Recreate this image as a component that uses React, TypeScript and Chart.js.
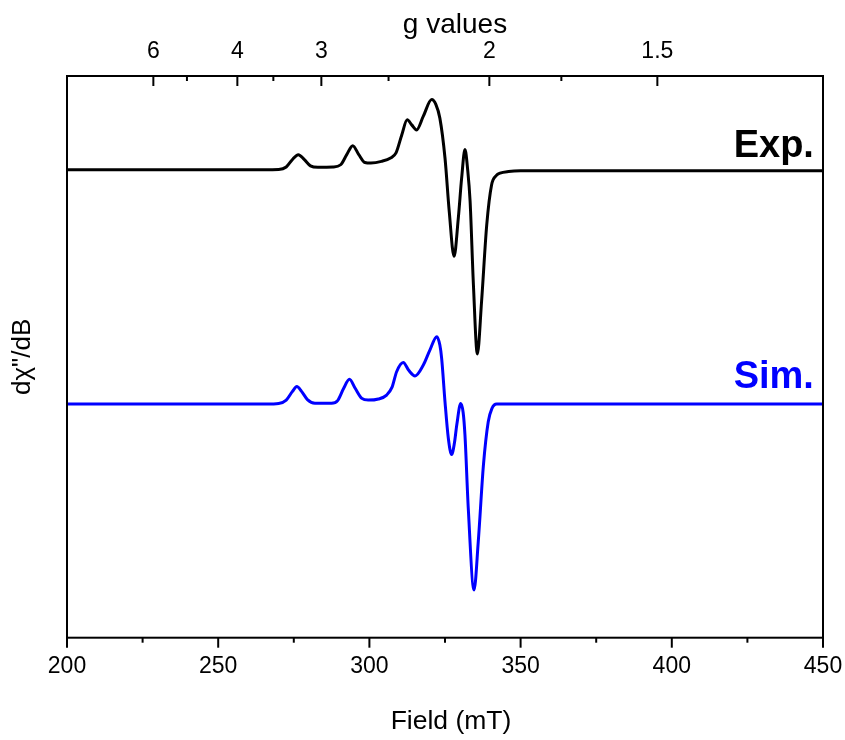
import React, { useEffect, useRef } from "react";
import { Chart, registerables } from "chart.js";

Chart.register(...registerables);

const FONT = "'Liberation Sans', Arial, Helvetica, sans-serif";

// Experimental spectrum (field in mT, signal in arbitrary units relative to its baseline)
const expField = [200, 265, 270, 272.5, 274.5, 276.5, 278.5, 280.5, 283, 288, 290.5, 292.5, 294.5, 296.5, 298.5, 300.5, 304, 307, 308.8, 310.7, 312.5, 314, 315.6, 317.8, 320.6, 322, 323.3, 325, 326.4, 328, 329.4, 330.5, 331.6, 332.5, 333.3, 334.4, 335.7, 337.1, 338.8, 340.4, 342, 343.2, 346, 350, 450];
const expSignal = [0, 0, 0.05, 0.5, 1.8, 2.7, 1.8, 0.7, 0.45, 0.5, 0.9, 2.7, 4.3, 2.7, 1.3, 1.2, 1.5, 2.1, 3.0, 6.2, 8.9, 8.0, 7.1, 9.5, 12.5, 11.6, 9.2, 2.1, -7.4, -15.4, -8.6, -1.5, 3.6, 0, -5.6, -20.5, -32.8, -23.4, -9.8, -2.7, -1.0, -0.6, -0.3, -0.18, -0.18];

// Simulated spectrum
const simField = [200, 266, 270, 272.5, 274.5, 276, 277.5, 279.5, 282, 287.5, 289.5, 291.5, 293.4, 295.3, 297.5, 299.6, 303, 305.7, 307.5, 309, 311.2, 313, 315.1, 317.8, 320, 322.3, 323.3, 323.9, 325, 326.1, 327.2, 328.1, 328.9, 330.2, 331, 331.6, 332.7, 334.6, 336, 337.7, 339.3, 340.5, 342.1, 450];
const simSignal = [0, 0, 0.1, 0.7, 2.2, 3.1, 2.3, 0.8, 0.15, 0.12, 0.6, 2.8, 4.4, 2.8, 1.0, 0.7, 0.9, 1.6, 3.0, 5.75, 7.4, 6.0, 5.0, 6.9, 9.6, 12.0, 10.5, 8.1, 0.4, -6.1, -9.0, -7.0, -3.7, 0.1, -1.5, -5.5, -18.6, -33.1, -24.5, -10.9, -3.15, -0.8, 0, 0];

// vertical offsets of the stacked traces
const expOffset = 83.3;
const simOffset = 41.6;

// bottom axis ticks (mT)
const fieldMajorTicks = [200, 250, 300, 350, 400, 450];
const fieldMinorTicks = [225, 275, 325, 375, 425];

// top axis ticks (g values, axis linear in 1/g)
const gMajorTicks = [6, 4, 3, 2, 1.5];
const gMinorTicks = [5, 3.5, 2.5, 1.75];
const invGMin = 0.081;
const invGMax = 0.831;

// axis titles
const bottomTitle = "Field (mT)";
const topTitle = "g values";
const leftTitle = "dχ\"/dB";

// trace labels
const traceLabels = [
  { text: "Exp.", color: "#000000", field: 447, y: expOffset + 2.3 },
  { text: "Sim.", color: "#0000ff", field: 447, y: simOffset + 2.8 },
];

const framePlugin = {
  id: "framePlugin",
  afterDraw(chart: any) {
    const { ctx, chartArea, scales } = chart;
    const { left, right, top, bottom } = chartArea;
    const cx = (left + right) / 2;
    ctx.save();
    ctx.strokeStyle = "#000";
    ctx.lineWidth = 2;
    ctx.strokeRect(left, top, right - left, bottom - top);
    const tick = (x: number, y0: number, y1: number) => {
      ctx.beginPath();
      ctx.moveTo(x, y0);
      ctx.lineTo(x, y1);
      ctx.stroke();
    };
    fieldMajorTicks.forEach((v) => tick(scales.x.getPixelForValue(v), bottom, bottom + 10));
    fieldMinorTicks.forEach((v) => tick(scales.x.getPixelForValue(v), bottom, bottom + 5));
    gMajorTicks.forEach((g) => tick(scales.x2.getPixelForValue(1 / g), top, top + 10));
    gMinorTicks.forEach((g) => tick(scales.x2.getPixelForValue(1 / g), top, top + 5));

    // axis titles (slightly right of centre, as in the original figure)
    ctx.fillStyle = "#000";
    ctx.textAlign = "center";
    ctx.textBaseline = "middle";
    ctx.font = `28px ${FONT}`;
    ctx.fillText(topTitle, cx + 10, scales.x2.top + 25);
    ctx.font = `26.5px ${FONT}`;
    ctx.fillText(bottomTitle, cx + 6, scales.x.bottom - 18);

    ctx.font = `bold 38px ${FONT}`;
    ctx.textAlign = "right";
    ctx.textBaseline = "alphabetic";
    traceLabels.forEach((l) => {
      ctx.fillStyle = l.color;
      ctx.fillText(l.text, scales.x.getPixelForValue(l.field), scales.y.getPixelForValue(l.y));
    });
    ctx.restore();
  },
};

export default function App() {
  const ref = useRef<HTMLCanvasElement | null>(null);

  useEffect(() => {
    if (!ref.current) return;
    const chart = new Chart(ref.current, {
      type: "line",
      data: {
        datasets: [
          {
            label: "Exp.",
            data: expField.map((f, i) => ({ x: f, y: expOffset + expSignal[i] })),
            borderColor: "#000000",
            borderWidth: 3,
            pointRadius: 0,
            cubicInterpolationMode: "monotone",
            xAxisID: "x",
            yAxisID: "y",
          },
          {
            label: "Sim.",
            data: simField.map((f, i) => ({ x: f, y: simOffset + simSignal[i] })),
            borderColor: "#0000ff",
            borderWidth: 3,
            pointRadius: 0,
            cubicInterpolationMode: "monotone",
            xAxisID: "x",
            yAxisID: "y",
          },
        ],
      },
      options: {
        animation: false,
        responsive: false,
        layout: { padding: { left: 0, right: 22, top: 0, bottom: 0 } },
        plugins: { legend: { display: false }, tooltip: { enabled: false } },
        scales: {
          x: {
            type: "linear",
            position: "bottom",
            min: 200,
            max: 450,
            afterBuildTicks: (s: any) => {
              s.ticks = fieldMajorTicks.map((v) => ({ value: v }));
            },
            afterFit: (s: any) => {
              s.height = 102.3;
              s.paddingLeft = 0;
              s.paddingRight = 0;
            },
            grid: { display: false, drawTicks: false },
            border: { display: false },
            ticks: {
              padding: 15,
              color: "#000",
              font: { family: FONT, size: 23 },
              maxRotation: 0,
            },
            title: { display: false },
          },
          x2: {
            type: "linear",
            axis: "x",
            position: "top",
            min: invGMin,
            max: invGMax,
            afterBuildTicks: (s: any) => {
              s.ticks = gMajorTicks.map((g) => ({ value: 1 / g }));
            },
            afterFit: (s: any) => {
              s.height = 76;
              s.paddingLeft = 0;
              s.paddingRight = 0;
            },
            grid: { display: false, drawTicks: false },
            border: { display: false },
            ticks: {
              padding: 11,
              color: "#000",
              font: { family: FONT, size: 23 },
              maxRotation: 0,
              callback: (v: any) => String(+(1 / Number(v)).toFixed(2)),
            },
            title: { display: false },
          },
          y: {
            type: "linear",
            position: "left",
            min: 0,
            max: 100,
            afterFit: (s: any) => {
              s.width = 67;
            },
            grid: { display: false, drawTicks: false },
            border: { display: false },
            ticks: { display: false },
            title: {
              display: true,
              text: leftTitle,
              color: "#000",
              font: { family: FONT, size: 26 },
              padding: { top: 7, bottom: 0 },
            },
          },
        },
      },
      plugins: [framePlugin],
    } as any);
    return () => chart.destroy();
  }, []);

  return (
    <div style={{ position: "absolute", left: 0, top: 0, width: 845, height: 740, background: "#fff" }}>
      <canvas ref={ref} width={845} height={740} style={{ display: "block", width: 845, height: 740 }} />
    </div>
  );
}
